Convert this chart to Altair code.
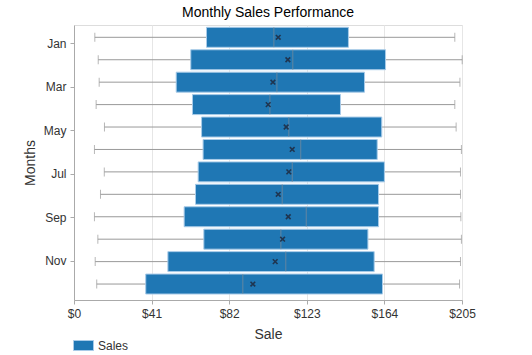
import altair as alt
import pandas as pd

months = ["Jan", "Feb", "Mar", "Apr", "May", "Jun", "Jul", "Aug", "Sep", "Oct", "Nov", "Dec"]
mins = [11.0, 12.8, 13.3, 11.7, 16.1, 10.8, 16.0, 14.0, 10.8, 12.6, 11.2, 12.0]
q1s = [70.0, 61.7, 54.0, 62.6, 67.4, 68.2, 65.6, 64.2, 58.2, 68.6, 49.6, 37.9]
medians = [105.6, 115.6, 107.2, 103.5, 113.5, 119.8, 115.3, 110.0, 122.7, 109.3, 111.9, 89.2]
means = [107.9, 113.0, 105.1, 102.6, 112.1, 115.3, 113.5, 107.9, 113.2, 110.2, 106.3, 94.5]
q3s = [145.0, 164.6, 153.5, 140.8, 162.6, 160.2, 164.0, 160.9, 160.9, 155.3, 158.6, 163.0]
maxs = [201.2, 205.1, 203.9, 201.2, 201.9, 204.7, 204.2, 204.2, 204.4, 204.7, 204.2, 203.7]
x_ticks = [0, 41, 82, 123, 164, 205]
y_labels = ["Jan", "Mar", "May", "Jul", "Sep", "Nov"]
series = "Sales"

df = pd.DataFrame({
    "month": months, "min": mins, "q1": q1s, "median": medians,
    "mean": means, "q3": q3s, "max": maxs, "series": [series] * len(months),
})

FONT = "Liberation Sans"
W, H = 388, 275

box_y_scale = alt.Scale(type="band", domain=months, paddingInner=0.11, paddingOuter=0.185,
                        align=0.28, round=False)
axis_y_scale = alt.Scale(type="band", domain=months, paddingInner=0, paddingOuter=0.322,
                         align=0.58, round=False)

xscale = alt.Scale(domain=[0, 205], nice=False, zero=True)
xaxis = alt.Axis(values=x_ticks, labelExpr="'$' + datum.value", title="Sale",
                 grid=True, gridColor="#e6e6e6", domainColor="#aaaaaa", tickColor="#aaaaaa",
                 tickSize=4, labelFontSize=12, labelColor="#333333", labelFont=FONT,
                 labelFlush=False, labelOverlap=False,
                 titleFont=FONT, titleFontSize=14, titleFontWeight="normal", titleColor="#333333",
                 titlePadding=8, labelPadding=4)

base = alt.Chart(df)

yb = alt.Y("month:N", scale=box_y_scale, axis=None, sort=months)

whisker = base.mark_rule(color="#999999", strokeWidth=1).encode(
    x=alt.X("min:Q", scale=xscale, axis=xaxis), x2="max:Q", y=yb)

cap_min = base.mark_tick(color="#999999", thickness=1, size=9).encode(
    x=alt.X("min:Q", scale=xscale), y=yb)
cap_max = base.mark_tick(color="#999999", thickness=1, size=9).encode(
    x=alt.X("max:Q", scale=xscale), y=yb)

box = base.mark_bar(stroke="#a8cbe8", strokeWidth=1).encode(
    x=alt.X("q1:Q", scale=xscale), x2="q3:Q", y=yb,
    color=alt.Color("series:N", scale=alt.Scale(domain=[series], range=["#1f77b4"]),
                    legend=alt.Legend(title=None, orient="none", legendX=-1, legendY=310,
                                      direction="horizontal",
                                      symbolType="M-1,-0.5L1,-0.5L1,0.5L-1,0.5Z", symbolSize=400,
                                      symbolStrokeColor="#a8cbe8", symbolStrokeWidth=1,
                                      labelFont=FONT, labelFontSize=12, labelColor="#333333",
                                      padding=0)))

median = base.mark_tick(color="#7f8c99", thickness=1, size=20).encode(
    x=alt.X("median:Q", scale=xscale), y=yb)

mean = base.mark_point(shape="M-1,-1L1,1M-1,1L1,-1", filled=False, color="#1f3550",
                       strokeWidth=1.6, size=22, opacity=1).encode(
    x=alt.X("mean:Q", scale=xscale), y=yb)

axis_layer = base.mark_bar(opacity=0).encode(
    x=alt.X("mean:Q", scale=xscale),
    y=alt.Y("month:N", scale=axis_y_scale, sort=months,
            axis=alt.Axis(values=y_labels, title="Months", orient="left", grid=False,
                          domainColor="#aaaaaa", tickColor="#aaaaaa", tickSize=4,
                          labelFontSize=12, labelColor="#333333", labelFont=FONT,
                          titleFont=FONT, titleFontSize=14, titleFontWeight="normal",
                          titleColor="#333333", labelPadding=4, titlePadding=6)))

chart = alt.layer(whisker, cap_min, cap_max, box, median, mean, axis_layer).resolve_scale(
    y="independent"
).properties(
    width=W, height=H,
    title=alt.Title("Monthly Sales Performance", font=FONT, fontSize=14, fontWeight="normal",
                    color="#000000", anchor="middle", offset=5),
    autosize=alt.AutoSizeParams(type="none"),
    padding={"left": 74, "top": 25, "right": 70, "bottom": 55},
).configure_view(stroke=None).configure(background="white")

chart.save("out.html", embed_options={"renderer": "svg", "actions": False})
